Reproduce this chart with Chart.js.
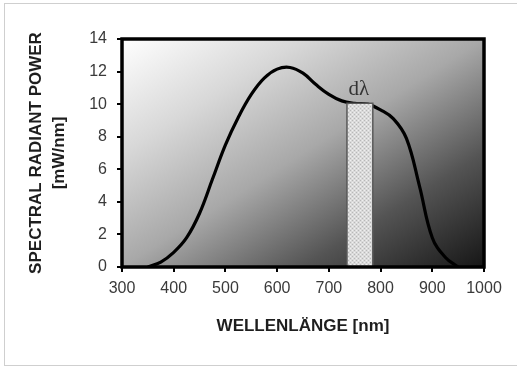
<!DOCTYPE html>
<html>
<head>
<meta charset="utf-8">
<script src="https://cdn.jsdelivr.net/npm/chart.js@4"></script>
<style>
  html, body { margin: 0; padding: 0; background: #fff; }
  #wrap { width: 517px; height: 367px; }
</style>
</head>
<body>
<div id="wrap"><canvas id="spektrum" width="517" height="367"></canvas></div>
<script>
// Daten der Kurve
const wavelength = [350, 375, 400, 425, 450, 475, 500, 525, 550, 575, 600, 625, 650, 675, 700, 725, 750, 775, 800, 825, 850, 875, 900, 925, 950];
const power = [0, 0.3, 0.9, 1.8, 3.3, 5.4, 7.5, 9.2, 10.6, 11.6, 12.15, 12.25, 11.9, 11.2, 10.6, 10.2, 10.05, 10.0, 9.65, 9.1, 7.9, 5.0, 1.8, 0.6, 0];

// Band d-lambda
const bandStart = 735;
const bandEnd = 785;
const bandTop = 10.05;
const bandLabel = 'dλ';

// Achsen
const xTicks = [300, 400, 500, 600, 700, 800, 900, 1000];
const yTicks = [0, 2, 4, 6, 8, 10, 12, 14];
const xTitle = 'WELLENLÄNGE [nm]';
const yTitle = ['SPECTRAL RADIANT POWER', '[mW/nm]'];

const sansFont = "'Liberation Sans', Arial, sans-serif";

// Punktmuster fuer das Band
function makePattern() {
  const c = document.createElement('canvas');
  c.width = 4; c.height = 4;
  const p = c.getContext('2d');
  p.fillStyle = '#dadada';
  p.fillRect(0, 0, 4, 4);
  p.fillStyle = '#b8b8b8';
  p.fillRect(0, 0, 1, 1);
  p.fillRect(2, 2, 1, 1);
  p.fillStyle = '#efefef';
  p.fillRect(2, 0, 1, 1);
  p.fillRect(0, 2, 1, 1);
  return p.createPattern(c, 'repeat');
}

// Hintergrund, Rahmen und Beschriftung
const decor = {
  id: 'decor',
  beforeDraw(chart) {
    const ctx = chart.ctx;
    const a = chart.chartArea;
    ctx.save();
    ctx.fillStyle = '#fff';
    ctx.fillRect(0, 0, chart.width, chart.height);
    ctx.strokeStyle = '#cfcfcf';
    ctx.lineWidth = 1;
    ctx.strokeRect(4.5, 3.5, 520, 362);
    // diagonaler Verlauf in normierten Koordinaten
    ctx.translate(a.left, a.top);
    ctx.scale(a.right - a.left, a.bottom - a.top);
    const g = ctx.createLinearGradient(0, 0, 1, 1);
    g.addColorStop(0, '#ffffff');
    g.addColorStop(0.25, '#d8d8d8');
    g.addColorStop(0.5, '#a8a8a8');
    g.addColorStop(0.75, '#545454');
    g.addColorStop(1, '#161616');
    ctx.fillStyle = g;
    ctx.fillRect(0, 0, 1, 1);
    ctx.restore();
  },
  afterDraw(chart) {
    const ctx = chart.ctx;
    const a = chart.chartArea;
    const xs = chart.scales.x;
    const ys = chart.scales.y;
    ctx.save();
    ctx.strokeStyle = '#000';
    ctx.lineWidth = 3.5;
    ctx.strokeRect(a.left, a.top, a.right - a.left, a.bottom - a.top);
    ctx.fillStyle = '#333';
    ctx.font = "21px 'Liberation Serif', 'DejaVu Serif', serif";
    ctx.textAlign = 'center';
    ctx.textBaseline = 'bottom';
    ctx.fillText(bandLabel, xs.getPixelForValue((bandStart + bandEnd) / 2) - 1, ys.getPixelForValue(bandTop) - 3);
    ctx.restore();
  }
};

const ctx = document.getElementById('spektrum').getContext('2d');
const chart = new Chart(ctx, {
  type: 'line',
  data: {
    datasets: [
      {
        // Band zuerst -> liegt oben
        data: [
          { x: bandStart, y: 0 },
          { x: bandStart, y: bandTop },
          { x: bandEnd, y: bandTop },
          { x: bandEnd, y: 0 }
        ],
        borderColor: '#5a5a5a',
        borderWidth: 1.5,
        backgroundColor: makePattern(),
        fill: 'origin',
        tension: 0,
        pointRadius: 0
      },
      {
        data: wavelength.map((w, i) => ({ x: w, y: power[i] })),
        borderColor: '#000',
        borderWidth: 3.2,
        fill: false,
        tension: 0.4,
        pointRadius: 0
      }
    ]
  },
  options: {
    responsive: false,
    animation: false,
    events: [],
    layout: {
      padding: { left: 25, top: 39, right: 33, bottom: 0 }
    },
    plugins: {
      legend: { display: false },
      tooltip: { enabled: false }
    },
    scales: {
      x: {
        type: 'linear',
        min: 300,
        max: 1000,
        afterBuildTicks: (scale) => { scale.ticks = xTicks.map(v => ({ value: v })); },
        afterFit: (scale) => { scale.height = 100; },
        border: { display: false },
        grid: { drawOnChartArea: false, drawTicks: true, tickLength: 5, color: '#000', lineWidth: 2 },
        ticks: {
          padding: 7,
          color: '#3a3a3a',
          font: { family: sansFont, size: 16 },
          callback: (v) => String(v)
        },
        title: {
          display: true,
          text: xTitle,
          color: '#1e1e1e',
          font: { family: sansFont, size: 17, weight: 'bold', lineHeight: 1.2 },
          padding: { top: 0, bottom: 30 }
        }
      },
      y: {
        min: 0,
        max: 14,
        afterBuildTicks: (scale) => { scale.ticks = yTicks.map(v => ({ value: v })); },
        afterFit: (scale) => { scale.width = 97; },
        border: { display: false },
        grid: { drawOnChartArea: false, drawTicks: true, tickLength: 5, color: '#000', lineWidth: 2 },
        ticks: {
          padding: 10,
          color: '#3a3a3a',
          font: { family: sansFont, size: 16 },
          callback: (v) => String(v)
        },
        title: {
          display: true,
          text: yTitle,
          color: '#1e1e1e',
          font: { family: sansFont, size: 17, weight: 'bold', lineHeight: 1.35 },
          padding: { top: 0, bottom: 0 }
        }
      }
    }
  },
  plugins: [decor]
});
</script>
</body>
</html>
